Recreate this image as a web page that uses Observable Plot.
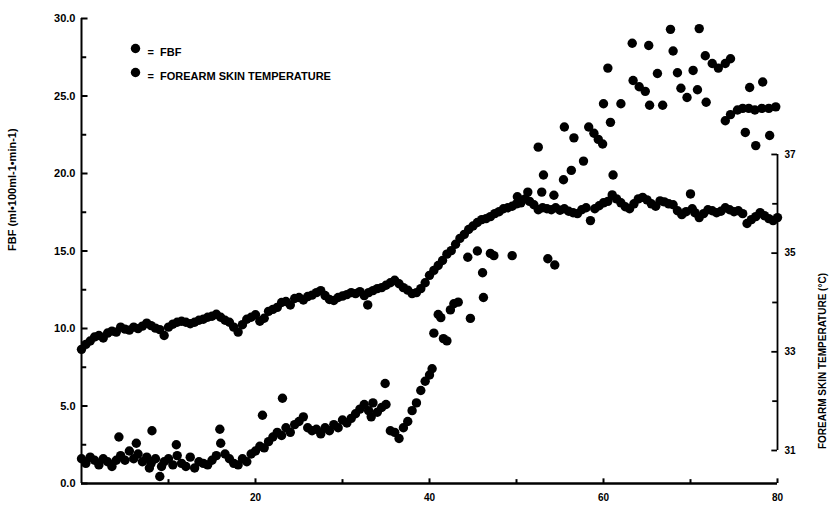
<!DOCTYPE html>
<html><head><meta charset="utf-8">
<script src="https://cdn.jsdelivr.net/npm/d3@7"></script>
<script src="https://cdn.jsdelivr.net/npm/@observablehq/plot@0.6"></script>
<style>body{margin:0;background:#fff} #chart{width:830px;height:509px}</style>
</head><body><div id="chart"></div>
<script>
// FBF (ml·100ml-1·min-1) versus time (min)
const fbfTime = [
 0,0.5,1,1.5,2,2.5,3,3.5,4,4.3,
 4.5,5,5.5,6,6.3,6.5,7,7.5,7.8,8,
 8.1,8.5,9,9.2,9.5,10,10.5,10.9,11,11.5,
 12,12.5,13,13.5,14,14.5,15,15.5,15.9,16,
 16.5,17,17.5,18,18.5,19,19.5,20,20.5,20.8,
 21,21.5,22,22.5,23,23.1,23.5,24,24.5,25,
 25.5,26,26.5,27,27.5,28,28.5,29,29.5,30,
 30.5,31,31.5,32,32.5,33,33.3,33.5,34,34.5,
 34.9,35,35.5,36,36.5,37,37.5,38,38.5,39,
 39.5,40,40.3,40.5,41,41.3,41.6,42,42.4,42.8,
 43.3,44.4,44.7,45.5,46.1,46.2,47,47.4,49.5,50.1,
 51.3,52.5,52.9,53.1,53.6,54.3,54.4,55.4,55.5,56.3,
 56.6,57.7,58.3,58.9,59.4,59.9,60.0,60.5,60.8,61.1,
 62.0,63.3,63.4,64.1,64.8,65.2,65.3,66.2,66.8,67.7,
 68.0,68.5,68.9,69.6,70.3,70.8,71.0,71.7,71.8,72.5,
 73.2,74.0,74.6,74.0,74.6,75.4,76.0,76.3,76.8,76.7,
 77.4,77.5,78.2,78.3,79.0,79.1,79.8
];
const fbfValue = [
 1.6,1.3,1.7,1.5,1.2,1.6,1.4,1.1,1.5,3.0,
 1.8,1.5,2.1,1.6,2.6,1.9,1.4,1.7,1.0,1.3,
 3.4,1.6,0.45,1.1,1.4,1.6,1.2,2.5,1.8,1.3,
 1.1,1.7,1.0,1.4,1.3,1.2,1.5,1.8,3.5,2.6,
 1.9,1.6,1.3,1.2,1.6,1.4,1.9,2.1,2.4,4.4,
 2.3,2.7,3.0,3.3,3.1,5.5,3.6,3.3,3.8,4.0,
 4.3,3.6,3.4,3.5,3.2,3.6,3.4,3.8,3.6,4.1,
 3.9,4.2,4.5,4.8,5.1,4.7,4.3,5.2,4.6,4.9,
 6.45,5.1,3.4,3.3,2.9,3.6,4.0,4.7,5.2,6.0,
 6.6,7.0,7.4,9.7,10.9,10.7,9.35,9.2,11.2,11.6,
 11.7,14.6,10.65,15.0,13.6,12.0,14.85,14.7,14.7,18.5,
 18.8,21.7,18.8,19.9,14.5,18.6,14.1,19.6,23.0,20.2,
 22.3,20.8,23.0,22.6,22.2,21.9,24.5,26.8,23.3,19.9,
 24.5,28.4,26.0,25.6,25.3,28.26,24.4,26.45,24.4,29.3,
 27.9,26.5,25.5,24.9,26.65,25.4,29.35,27.6,24.6,27.1,
 26.8,27.1,27.4,23.4,23.8,24.1,24.2,22.65,25.55,24.2,
 24.1,21.8,24.2,25.9,24.2,22.45,24.3
];
// Forearm skin temperature (°C) versus time (min)
const tempTime = [
 0,0.5,1,1.5,2,2.5,3,3.5,4,4.5,
 5,5.5,6,6.5,7,7.5,8,8.5,9,9.5,
 10,10.5,11,11.5,12,12.5,13,13.5,14,14.5,
 15,15.5,16,16.5,17,17.5,18,18.5,19,19.5,
 20,20.5,21,21.5,22,22.5,23,23.5,24,24.5,
 25,25.5,26,26.5,27,27.5,28,28.5,29,29.5,
 30,30.5,31,31.5,32,32.5,32.9,33,33.5,34,
 34.5,35,35.5,36,36.5,37,37.5,38,38.5,39,
 39.5,40,40.5,41,41.5,42,42.5,43,43.5,44,
 44.5,45,45.5,46,46.5,47,47.5,48,48.5,49,
 49.5,50,50.5,51,51.5,52,52.5,53,53.5,54,
 54.5,55,55.5,56,56.5,57,57.5,58,58.5,59,
 59.5,60,60.5,61,61.5,62,62.5,63,63.5,64,
 64.5,65,65.5,66,66.5,67,67.5,68,68.5,69,
 69.5,70,70.2,70.5,71,71.5,72,72.5,73,73.5,
 74,74.5,75,75.5,76,76.5,77,77.5,78,78.5,
 79,79.5,80
];
const tempValue = [
 33.05,33.15,33.22,33.30,33.33,33.28,33.38,33.42,33.40,33.50,
 33.46,33.44,33.50,33.47,33.52,33.58,33.53,33.48,33.45,33.33,
 33.50,33.56,33.60,33.62,33.60,33.57,33.60,33.64,33.66,33.70,
 33.72,33.76,33.70,33.64,33.60,33.50,33.40,33.55,33.66,33.70,
 33.75,33.62,33.68,33.82,33.86,33.90,34.00,34.02,33.95,34.08,
 34.10,34.05,34.12,34.15,34.20,34.24,34.14,34.06,34.04,34.10,
 34.13,34.16,34.20,34.18,34.22,34.14,33.95,34.20,34.24,34.28,
 34.30,34.35,34.40,34.45,34.38,34.30,34.25,34.18,34.20,34.28,
 34.40,34.55,34.65,34.75,34.85,34.98,35.05,35.18,35.30,35.38,
 35.48,35.55,35.62,35.68,35.70,35.74,35.80,35.84,35.90,35.92,
 35.95,36.00,36.02,36.10,36.05,35.98,35.88,35.92,35.90,35.88,
 35.92,35.87,35.90,35.85,35.82,35.80,35.88,35.92,35.66,35.90,
 35.96,36.02,36.05,36.18,36.10,36.02,35.94,35.90,36.00,36.10,
 36.13,36.08,36.00,35.95,36.06,36.04,36.00,35.98,35.86,35.78,
 35.84,36.20,35.90,35.82,35.72,35.80,35.88,35.86,35.82,35.85,
 35.92,35.88,35.84,35.86,35.80,35.60,35.68,35.74,35.82,35.76,
 35.70,35.66,35.72
];
const leftTicks = [0,5,10,15,20,25,30];
const leftMinor = [2.5,7.5,12.5,17.5,22.5,27.5];
const xTicks = [20,40,60,80];
const xMinor = [10,30,50,70];
const rightTicks = [31,33,35,37];
const rightMinor = [32,34,36];
const legendLabels = ["=  FBF", "=  FOREARM SKIN TEMPERATURE"];

// right (temperature) axis mapped onto the left scale: 31 °C ≈ 2.13, 37 °C ≈ 21.23
const T0 = 31, L0 = 2.13, K = 3.183;
const toLeft = T => L0 + K * (T - T0);

const fbf = fbfTime.map((t, i) => ({t, v: fbfValue[i]}));
const temp = tempTime.map((t, i) => ({t, v: toLeft(tempValue[i])}));

const bold = {fontWeight: "bold", fill: "#000"};
const plot = Plot.plot({
  width: 830, height: 509,
  marginLeft: 81, marginRight: 53, marginTop: 18, marginBottom: 26,
  x: {domain: [0, 80], axis: null},
  y: {domain: [0, 30], axis: null},
  style: {background: "#fff", color: "#000", fontFamily: "'Liberation Sans', Arial, sans-serif", overflow: "visible"},
  marks: [
    // left axis
    Plot.ruleX([0], {y1: 0, y2: 30, strokeWidth: 2}),
    Plot.ruleY(leftTicks, {y: d => d, x1: 0, x2: 0.75, strokeWidth: 2}),
    Plot.ruleY(leftMinor, {y: d => d, x1: 0, x2: 0.6, strokeWidth: 2}),
    Plot.text(leftTicks, {x: 0, y: d => d, text: d => d.toFixed(1), textAnchor: "end", dx: -6, fontSize: 11, ...bold}),
    // bottom axis
    Plot.ruleY([0], {x1: 0, x2: 80, strokeWidth: 2.5}),
    Plot.ruleX(xTicks, {x: d => d, y1: 0, y2: 0.3, strokeWidth: 2}),
    Plot.ruleX(xMinor, {x: d => d, y1: 0, y2: 0.25, strokeWidth: 2}),
    Plot.text(xTicks, {x: d => d, y: 0, text: d => String(d), dy: 14, fontSize: 10, ...bold}),
    // right axis (temperature)
    Plot.ruleX([80], {y1: toLeft(31), y2: toLeft(37), strokeWidth: 1.8}),
    Plot.ruleY(rightTicks, {y: toLeft, x1: 79.35, x2: 80, strokeWidth: 1.8}),
    Plot.ruleY(rightMinor, {y: toLeft, x1: 79.45, x2: 80, strokeWidth: 1.8}),
    Plot.text(rightTicks, {x: 80, y: toLeft, text: d => String(d), textAnchor: "start", dx: 7, fontSize: 10, ...bold}),
    // axis titles
    Plot.text(["FBF (ml\u2022100ml-1\u2022min-1)"], {frameAnchor: "left", dx: -69, rotate: -90, fontSize: 11, ...bold}),
    Plot.text(["FOREARM SKIN TEMPERATURE (\u00B0C)"], {frameAnchor: "right", dx: 45, dy: 22, rotate: -90, fontSize: 10, ...bold}),
    // data
    Plot.dot(temp, {x: "t", y: "v", r: 4.7, fill: "#000"}),
    Plot.dot(fbf, {x: "t", y: "v", r: 4.7, fill: "#000"}),
    // legend
    Plot.dot([legendLabels[0]], {frameAnchor: "top-left", dx: 54, dy: 30, r: 4.7, fill: "#000"}),
    Plot.dot([legendLabels[1]], {frameAnchor: "top-left", dx: 54, dy: 54, r: 4.7, fill: "#000"}),
    Plot.text([legendLabels[0]], {frameAnchor: "top-left", dx: 66, dy: 30, textAnchor: "start", fontSize: 11, ...bold}),
    Plot.text([legendLabels[1]], {frameAnchor: "top-left", dx: 66, dy: 54, textAnchor: "start", fontSize: 11, ...bold})
  ]
});
document.getElementById("chart").appendChild(plot);
</script>
</body></html>
